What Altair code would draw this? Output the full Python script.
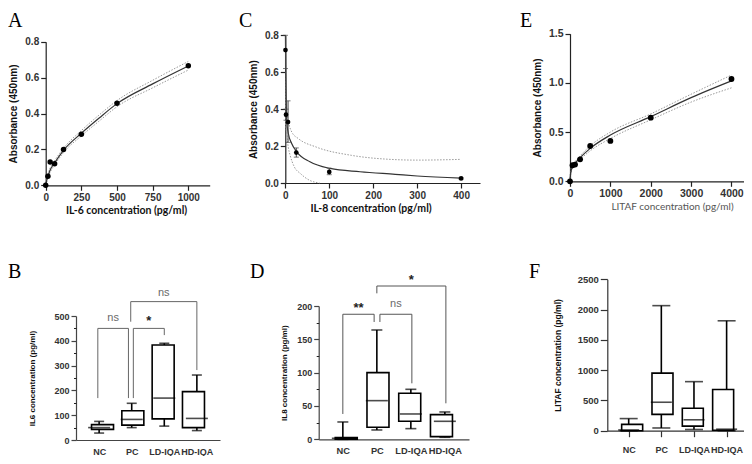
import json
import altair as alt
import pandas as pd

# ------------------------------------------------------------------ data
# A  IL-6 standard curve
a_conc = [0, 15.6, 31.25, 62.5, 125, 250, 500, 1000]
a_abs = [0.0, 0.05, 0.13, 0.12, 0.20, 0.285, 0.457, 0.666]
a_fit_conc = [0, 8, 15.6, 31.25, 62.5, 125, 250, 375, 500, 750, 1000]
a_fit_abs = [0.0, 0.03, 0.05, 0.085, 0.125, 0.195, 0.29, 0.375, 0.455, 0.565, 0.665]
a_ci_hi = [0.01, 0.04, 0.062, 0.097, 0.137, 0.207, 0.305, 0.392, 0.472, 0.585, 0.69]
a_ci_lo = [0.0, 0.02, 0.04, 0.073, 0.113, 0.183, 0.275, 0.358, 0.438, 0.543, 0.642]

# C  IL-8 standard curve
c_conc = [0.39, 1.56, 6.25, 25, 100, 400]
c_abs = [0.72, 0.37, 0.33, 0.165, 0.06, 0.025]
c_err_lo = [0.62, 0.34, 0.22, 0.14, 0.045, 0.02]
c_err_hi = [0.80, 0.40, 0.445, 0.19, 0.08, 0.03]
c_fit_conc = [0.39, 1, 2, 3.2, 6.9, 14.5, 26, 56, 102, 170, 250, 300, 400]
c_fit_abs = [0.80, 0.62, 0.45, 0.34, 0.268, 0.214, 0.169, 0.115, 0.079, 0.061, 0.047, 0.038, 0.026]
c_ci_hi_conc = [0.5, 2, 8, 15, 30, 70, 150, 225, 300, 400]
c_ci_hi_abs = [0.80, 0.40, 0.32, 0.275, 0.24, 0.195, 0.15, 0.13, 0.124, 0.128]
c_ci_lo_conc = [0.5, 1, 3, 7, 11, 20, 35, 55, 78]
c_ci_lo_abs = [0.60, 0.33, 0.27, 0.19, 0.15, 0.09, 0.05, 0.015, 0.0]

# E  LITAF standard curve
e_conc = [0, 62.5, 125, 250, 500, 1000, 2000, 4000]
e_abs = [0.0, 0.163, 0.17, 0.223, 0.359, 0.41, 0.647, 1.04]
e_fit_conc = [0, 15, 62.5, 125, 250, 500, 1000, 2000, 3000, 4000]
e_fit_abs = [0.0, 0.08, 0.15, 0.185, 0.24, 0.335, 0.47, 0.657, 0.85, 1.02]
e_ci_hi = [0.03, 0.1, 0.165, 0.2, 0.258, 0.36, 0.5, 0.685, 0.885, 1.08]
e_ci_lo = [0.0, 0.06, 0.135, 0.17, 0.222, 0.31, 0.435, 0.625, 0.805, 0.95]

groups = ["NC", "PC", "LD-IQA", "HD-IQA"]

# B  IL6 concentration (pg/ml) box plots
b_min = [28, 50, 56, 38]
b_q1 = [43, 60, 85, 50]
b_med = [50, 83, 169, 87]
b_q3 = [62, 118, 383, 195]
b_max = [75, 148, 390, 262]
# significance brackets (x in group index units, y in pg/ml)
b_br_left = [-0.04, 1.05, 0.97]
b_br_right = [0.90, 2.0, 3.0]
b_br_top = [450, 450, 558]
b_br_left_end = [169, 169, 477]
b_br_right_end = [169, 423, 282]
b_br_label = ["ns", "*", "ns"]
b_br_label_y = [491, 491, 594]

# D  IL8 concentration (pg/ml) box plots
d_min = [0, 14, 16, 3]
d_q1 = [0, 18, 27, 4]
d_med = [1.5, 58, 38, 27]
d_q3 = [2.5, 100, 69, 37]
d_max = [26, 164, 75, 41]
d_br_left = [0.0, 1.09, 1.0]
d_br_right = [0.92, 2.03, 3.03]
d_br_top = [187.6, 187.6, 230]
d_br_left_end = [38, 176, 219]
d_br_right_end = [176, 84, 54]
d_br_label = ["**", "ns", "*"]
d_br_label_y = [201, 203, 244]

# F  LITAF concentration (pg/ml) box plots
f_min = [0, 45, 20, 0]
f_q1 = [0, 270, 75, 8]
f_med = [12, 470, 180, 25]
f_q3 = [105, 950, 370, 680]
f_max = [200, 2065, 810, 1815]

panel_letters = ["A", "B", "C", "D", "E", "F"]

# ------------------------------------------------------------------ layout helpers
W, H = 736, 448
M = 8  # page margin: reference pixel -> chart pixel
SANS = "Liberation Sans, Arial, sans-serif"
HUMAN = "Lato, Open Sans, sans-serif"
SERIF = "Liberation Serif, Times New Roman, serif"


def scale(dom, r0, r1):
    return alt.Scale(domain=dom, range=[r0 - M, r1 - M], nice=False, zero=False)


def x_axis(y_ref, values, title, fmt="d", title_x=None, label_size=10,
           title_font=HUMAN, title_weight="bold", title_color="#111",
           title_size=10.5, title_pad=3, ticks=True, tick_size=5, label_pad=2,
           label_expr=None, domain_color="#222"):
    kw = dict(orient="bottom", offset=(y_ref - M) - H, values=values,
              labelFont=SANS, labelFontSize=label_size,
              labelFontWeight="bold", labelColor="#333", labelPadding=label_pad,
              ticks=ticks, tickSize=tick_size if ticks else 0, tickColor=domain_color,
              tickWidth=1.2, domainColor=domain_color, domainWidth=1.2,
              grid=False, labelFlush=False, labelOverlap=False)
    kw["title"] = title
    if fmt:
        kw["format"] = fmt
    if label_expr:
        kw["labelExpr"] = label_expr
    if title:
        kw.update(titleFont=title_font, titleFontWeight=title_weight,
                  titleColor=title_color, titleFontSize=title_size,
                  titlePadding=title_pad)
        if title_x is not None:
            kw["titleX"] = title_x - M
    return alt.Axis(**kw)


def y_axis(x_ref, values, title, fmt, label_size=10, title_size=10,
           title_pad=6, tick_size=5, domain_color="#222"):
    return alt.Axis(orient="left", offset=-(x_ref - M), values=values, format=fmt,
                    title=title, labelFont=SANS, labelFontSize=label_size,
                    labelFontWeight="bold", labelColor="#333", labelPadding=2,
                    tickSize=tick_size, tickColor=domain_color, tickWidth=1.2,
                    domainColor=domain_color, domainWidth=1.2, grid=False,
                    titleFont=SANS, titleFontWeight="bold", titleColor="#111",
                    titleFontSize=title_size, titlePadding=title_pad,
                    labelFlush=False, labelOverlap=False)


def minor_ticks(ys, x_ref, values):
    d = pd.DataFrame({"v": values})
    ax = alt.Axis(orient="left", offset=-(x_ref - M), values=values, labels=False,
                  domain=False, title=None, tickSize=2.5, tickColor="#222",
                  tickWidth=1, grid=False)
    return [alt.Chart(d).mark_point(opacity=0).encode(
        y=alt.Y("v:Q", scale=ys, axis=ax))]


def curve_panel(px, py, fx, fy, hx, hy, lx, ly, xs, ys, xax, yax,
                pt_size=30, err=None):
    def enc(ax_x=None, ax_y=None):
        return dict(x=alt.X("x:Q", scale=xs, axis=ax_x),
                    y=alt.Y("y:Q", scale=ys, axis=ax_y))
    band = dict(color="#9a9a9a", strokeWidth=1, strokeDash=[1.5, 1.5],
                interpolate="monotone")
    layers = [
        alt.Chart(pd.DataFrame({"x": hx, "y": hy})).mark_line(**band).encode(**enc(xax, yax)),
        alt.Chart(pd.DataFrame({"x": lx, "y": ly})).mark_line(**band).encode(**enc()),
        alt.Chart(pd.DataFrame({"x": fx, "y": fy})).mark_line(
            color="#333", strokeWidth=1.2, interpolate="monotone").encode(**enc()),
    ]
    if err is not None:
        ex, elo, ehi = err
        edf = pd.DataFrame({"x": ex, "lo": elo, "hi": ehi})
        X = alt.X("x:Q", scale=xs, axis=None)
        layers += [
            alt.Chart(edf).mark_rule(color="#444", strokeWidth=1).encode(
                x=X, y=alt.Y("lo:Q", scale=ys, axis=None), y2="hi:Q"),
            alt.Chart(edf).mark_tick(orient="horizontal", size=5, thickness=1,
                                     color="#444").encode(
                x=X, y=alt.Y("lo:Q", scale=ys, axis=None)),
            alt.Chart(edf).mark_tick(orient="horizontal", size=5, thickness=1,
                                     color="#444").encode(
                x=X, y=alt.Y("hi:Q", scale=ys, axis=None)),
        ]
    layers.append(alt.Chart(pd.DataFrame({"x": px, "y": py})).mark_circle(
        size=pt_size, color="black", opacity=1).encode(**enc()))
    return layers


def box_panel(mn, q1, md, q3, mx, xs, ys, xax, yax, box_w, cap_w, br=None,
              br_color="#555"):
    df = pd.DataFrame({"i": list(range(len(groups))), "mn": mn, "q1": q1,
                       "md": md, "q3": q3, "mx": mx})
    base = alt.Chart(df)

    def X(ax=None):
        return alt.X("i:Q", scale=xs, axis=ax)

    def Y(f, ax=None):
        return alt.Y(f + ":Q", scale=ys, axis=ax)

    tick = dict(orient="horizontal", thickness=1.6, color="black")
    layers = [
        base.mark_rule(color="black", strokeWidth=1.6).encode(
            x=X(xax), y=Y("mn", yax), y2="mx:Q"),
        base.mark_bar(size=box_w, fill="white", stroke="black",
                      strokeWidth=1.6).encode(x=X(), y=Y("q1"), y2="q3:Q"),
        base.mark_tick(size=box_w, **tick).encode(x=X(), y=Y("md")),
        base.mark_tick(size=cap_w, **tick).encode(x=X(), y=Y("mx")),
        base.mark_tick(size=cap_w, **tick).encode(x=X(), y=Y("mn")),
    ]
    if br is not None:
        xl, xr, top, le, re_, lab, laby = br
        seg = pd.DataFrame({"sx": xl + xl + xr, "sx2": xr + xl + xr,
                            "sy": top + le + re_, "sy2": top + top + top})
        layers.append(alt.Chart(seg).mark_rule(color=br_color, strokeWidth=1).encode(
            x=alt.X("sx:Q", scale=xs, axis=None), x2="sx2:Q",
            y=alt.Y("sy:Q", scale=ys, axis=None), y2="sy2:Q"))
        ldf = pd.DataFrame({"lx": [(a + b) / 2 for a, b in zip(xl, xr)],
                            "ly": laby, "t": lab})
        lb = alt.Chart(ldf)
        enc = dict(x=alt.X("lx:Q", scale=xs, axis=None),
                   y=alt.Y("ly:Q", scale=ys, axis=None), text="t:N")
        layers.append(lb.transform_filter(alt.datum.t == "ns").mark_text(
            font=SANS, fontSize=11, color="#6a6a6a", baseline="middle").encode(**enc))
        layers.append(lb.transform_filter(alt.datum.t != "ns").mark_text(
            font=SANS, fontSize=13, fontWeight="bold", color="#222",
            baseline="middle", dy=3).encode(**enc))
    return layers


group_expr = json.dumps(groups) + "[datum.value]"
idx = list(range(len(groups)))

# ------------------------------------------------------------------ panels
# A
xs_a = scale([0, 1150], 45.7, 209.7)
ys_a = scale([0, 0.8], 185.3, 41.7)
panel_a = curve_panel(
    a_conc, a_abs, a_fit_conc, a_fit_abs, a_fit_conc, a_ci_hi, a_fit_conc, a_ci_lo,
    xs_a, ys_a,
    x_axis(185.3, [0, 250, 500, 750, 1000], "IL-6 concentration (pg/ml)", title_x=126),
    y_axis(45.7, [0, 0.2, 0.4, 0.6, 0.8], "Absorbance (450nm)", ".1f"))

# C
xs_c = scale([0, 443], 285.3, 480)
ys_c = scale([0, 0.8], 183, 35.3)
panel_c = curve_panel(
    c_conc, c_abs, c_fit_conc, c_fit_abs, c_ci_hi_conc, c_ci_hi_abs,
    c_ci_lo_conc, c_ci_lo_abs, xs_c, ys_c,
    x_axis(183, [0, 100, 200, 300, 400], "IL-8 concentration (pg/ml)", title_x=370.5),
    y_axis(285.3, [0, 0.2, 0.4, 0.6, 0.8], "Absorbance (450nm)", ".1f"),
    pt_size=22, err=(c_conc, c_err_lo, c_err_hi))

# E
xs_e = scale([0, 4310], 570, 744)
ys_e = scale([0, 1.5], 181.3, 33.7)
panel_e = curve_panel(
    e_conc, e_abs, e_fit_conc, e_fit_abs, e_fit_conc, e_ci_hi, e_fit_conc, e_ci_lo,
    xs_e, ys_e,
    x_axis(181.3, [0, 1000, 2000, 3000, 4000], "LITAF concentration (pg/ml)",
           title_x=672, title_weight="normal", title_color="#555", title_size=10,
           label_size=10.5),
    y_axis(570, [0, 0.5, 1.0, 1.5], "Absorbance (450nm)", ".1f", label_size=10.5),
    pt_size=34)

# B
xs_b = scale([-0.71, 3.71], 76, 220)
ys_b = scale([0, 500], 440, 316)
panel_b = box_panel(
    b_min, b_q1, b_med, b_q3, b_max, xs_b, ys_b,
    x_axis(440, idx, None, fmt=None, ticks=False, label_pad=7, label_size=9,
           label_expr=group_expr, domain_color="#444"),
    y_axis(76, [0, 100, 200, 300, 400, 500], "IL6 concentration (pg/ml)", "d",
           label_size=9, title_size=8, title_pad=17, tick_size=5, domain_color="#444"),
    22, 10,
    br=(b_br_left, b_br_right, b_br_top, b_br_left_end, b_br_right_end,
        b_br_label, b_br_label_y), br_color="#666")
minor_b = minor_ticks(ys_b, 76, [50, 150, 250, 350, 450])

# D
xs_d = scale([-0.71, 3.71], 318.7, 469)
ys_d = scale([0, 200], 439.3, 306)
panel_d = box_panel(
    d_min, d_q1, d_med, d_q3, d_max, xs_d, ys_d,
    x_axis(439.3, idx, None, fmt=None, ticks=False, label_pad=7.5, label_size=9.3,
           label_expr=group_expr, domain_color="#444"),
    y_axis(318.7, [0, 50, 100, 150, 200], "IL8 concentration (pg/ml)", "d",
           label_size=9, title_size=8, title_pad=8, tick_size=5, domain_color="#444"),
    22, 11,
    br=(d_br_left, d_br_right, d_br_top, d_br_left_end, d_br_right_end,
        d_br_label, d_br_label_y), br_color="#555")
minor_d = minor_ticks(ys_d, 318.7, [25, 75, 125, 175])

# F
xs_f = scale([-0.655, 3.655], 607.3, 748)
ys_f = scale([0, 2500], 430.7, 279.3)
panel_f = box_panel(
    f_min, f_q1, f_med, f_q3, f_max, xs_f, ys_f,
    x_axis(430.7, idx, None, fmt=None, ticks=True, tick_size=6, label_pad=9,
           label_size=9, label_expr=group_expr, domain_color="#333"),
    y_axis(607.3, [0, 500, 1000, 1500, 2000, 2500], "LITAF concentration (pg/ml)", "d",
           label_size=9.5, title_size=8.5, title_pad=15, tick_size=7, domain_color="#333"),
    21, 18)

# panel letters (reference-pixel anchor of the baseline)
letter_xy = {"A": (8, 26.5), "B": (8, 278), "C": (239, 26.5),
             "D": (250, 278), "E": (520, 26.5), "F": (529, 278)}
letters = [
    alt.Chart(pd.DataFrame({"t": [L]})).mark_text(
        font=SERIF, fontSize=20, align="left", baseline="alphabetic",
        color="black").encode(
        text="t:N", x=alt.value(letter_xy[L][0] - M), y=alt.value(letter_xy[L][1] - M))
    for L in panel_letters
]

all_layers = (panel_a + panel_c + panel_e + panel_b + minor_b + panel_d + minor_d
              + panel_f + letters)

chart = alt.layer(*all_layers).resolve_scale(
    x="independent", y="independent"
).resolve_axis(
    x="independent", y="independent"
).properties(
    width=W, height=H, padding=0, background="white",
    autosize=alt.AutoSizeParams(type="none"),
).configure_view(stroke=None).configure_axis(grid=False)

chart.save("out.html", embed_options={"renderer": "svg", "actions": False})
